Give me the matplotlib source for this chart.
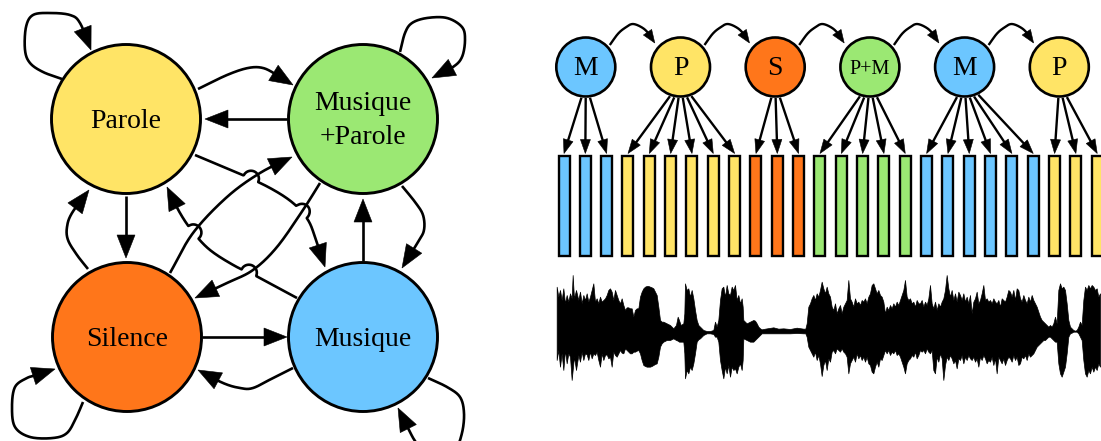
import numpy as np
import matplotlib
matplotlib.use("Agg")
import matplotlib.pyplot as plt
from matplotlib.patches import Circle, Rectangle, Polygon

# ---------------- data ----------------
BLUE, YELLOW, ORANGE, GREEN = "#6CC6FF", "#FFE466", "#FF761A", "#9BE873"

# left: state graph
state_labels = ["Parole", "Musique\n+Parole", "Silence", "Musique"]
state_colors = [YELLOW, GREEN, ORANGE, BLUE]
state_xy = [(126, 119), (363, 119), (127, 337), (363, 337)]

# edges (waypoints, image pixels)
edge_P_loop = [(62, 79), (43, 72), (30, 63), (25, 50), (26, 27), (33, 15), (50, 13), (70, 15), (80, 23), (91, 50)]
edge_P_MP = [(198, 89), (227, 75), (248, 68), (263, 68), (277, 75), (293, 85)]
edge_MP_P = [(287, 119), (205, 119)]
edge_P_M = [(195, 155), (238, 173), (270, 188), (293, 203), (308, 220), (316, 240), (325, 267)]
edge_M_P = [(297, 298), (260, 278), (235, 266), (210, 250), (193, 232), (180, 213), (167, 187)]
edge_S_MP = [(170, 273), (193, 233), (227, 197), (260, 173), (292, 157)]
edge_MP_S = [(320, 183), (303, 210), (277, 247), (253, 270), (227, 283), (195, 298)]
edge_S_P = [(88, 269), (77, 255), (68, 240), (67, 227), (72, 213), (89, 190)]
edge_P_S = [(126, 196), (126, 258)]
edge_MP_M = [(402, 186), (415, 202), (423, 215), (424, 230), (418, 242), (402, 268)]
edge_M_MP = [(363, 261), (363, 199)]
edge_MP_loop = [(400, 52), (405, 33), (412, 23), (427, 18), (447, 18), (462, 27), (465, 40), (462, 57), (453, 67), (432, 78)]
edge_S_M = [(202, 337), (287, 337)]
edge_M_S = [(293, 368), (273, 378), (253, 388), (240, 388), (223, 383), (198, 370)]
edge_S_loop = [(83, 402), (76, 418), (67, 433), (53, 438), (30, 437), (15, 427), (12, 407), (15, 387), (27, 378), (37, 375), (55, 369)]
edge_M_loop = [(428, 378), (447, 387), (460, 397), (464, 413), (462, 433), (455, 450), (440, 458), (425, 453), (415, 441), (408, 428), (398, 408)]

# right: state sequence and frames
seq_labels = ["M", "P", "S", "P+M", "M", "P"]
seq_counts = [3, 6, 3, 5, 6, 3]
label_color = {"M": BLUE, "P": YELLOW, "S": ORANGE, "P+M": GREEN}

# waveform envelope (time units / amplitude units of the waveform panel)
wave_t_a = [20, 25, 30, 35, 40, 45, 50, 55, 60, 65, 68, 72, 78, 85, 90, 95, 100, 105, 110, 115,
            120, 125, 130, 135, 140, 145, 150, 155, 160, 165, 170, 175, 180, 185, 190, 195, 200, 205, 210, 215, 220,
            225, 230, 235, 240, 245, 250, 255, 260, 265,
            270, 275, 280, 285, 290, 295, 300, 305, 310, 315, 320, 325, 330,
            335, 340, 350, 360, 370, 378, 383, 387, 392, 400,
            403, 405, 410, 415, 420, 425, 430, 435, 440,
            445, 450, 460, 470, 480, 490, 495, 500, 505,
            510, 515, 520, 525, 530, 535, 540, 545, 550, 555, 560, 565, 570,
            575, 578, 580, 590, 600, 610, 615, 620, 625, 630, 635, 645, 670, 685, 700, 720, 740, 760, 766]
wave_top_a = [50, 80, 60, 90, 55, 100, 75, 95, 70, 85, 15, 85, 60, 90, 65, 100, 75, 90, 70, 95,
              80, 60, 40, 95, 85, 100, 80, 95, 90, 85, 75, 60, 55, 65, 90, 60, 75, 90, 100, 85, 105,
              120, 112, 112, 115, 115, 140, 120, 115, 115,
              80, 65, 55, 50, 48, 48, 50, 52, 55, 65, 75, 110, 150,
              155, 155, 160, 165, 175, 165, 140, 150, 165, 160,
              130, 40, 60, 55, 80, 60, 85, 120, 150,
              165, 170, 180, 183, 183, 180, 155, 170, 150,
              90, 55, 50, 80, 45, 70, 75, 50, 60, 45, 90, 75, 100,
              85, 110, 150, 160, 155, 150, 152, 160, 170, 175, 178, 176, 172, 176, 175, 177, 173, 176, 176]
wave_bot_a = [270, 240, 290, 250, 300, 240, 280, 250, 260, 330, 300, 260, 300, 255, 275, 245, 270, 250, 253, 270,
              245, 265, 250, 255, 245, 270, 290, 250, 270, 255, 253, 265, 260, 290, 245, 255, 260, 250, 240, 248, 250,
              235, 240, 245, 250, 250, 245, 245, 242, 240,
              250, 270, 285, 288, 290, 290, 290, 288, 285, 282, 280, 260, 230,
              220, 215, 210, 210, 205, 210, 212, 215, 215, 215,
              250, 325, 300, 310, 290, 300, 280, 250, 215,
              208, 205, 195, 190, 190, 192, 200, 200, 215,
              270, 300, 325, 290, 310, 285, 320, 290, 300, 295, 310, 290, 280,
              300, 270, 205, 210, 215, 215, 210, 205, 200, 195, 190, 190, 190, 190, 190, 190, 189, 190, 190]
wave_t_b = list(range(770, 1106, 5))
wave_top_b = [160, 110, 100, 85, 75, 90, 70, 80, 60, 35, 55, 70, 50, 70, 80, 110, 120, 100, 130, 115,
              105, 130, 110, 100, 90, 30, 85, 95, 110, 85, 100, 95, 105, 90, 95, 85, 100, 80, 70, 45,
              40, 55, 70, 60, 75, 80, 95, 130, 110, 120, 105, 115, 100, 110, 95, 105, 90, 75, 60, 30,
              80, 90, 85, 100, 95, 110, 90, 100]
wave_bot_b = [200, 230, 240, 250, 260, 245, 270, 255, 280, 318, 285, 270, 300, 265, 275, 245, 240, 250, 235, 240,
              245, 235, 245, 250, 260, 310, 280, 270, 260, 275, 250, 265, 255, 270, 260, 275, 260, 280, 285, 305,
              310, 290, 275, 290, 265, 270, 255, 240, 250, 240, 255, 245, 250, 240, 255, 250, 260, 275, 290, 310,
              280, 270, 265, 255, 260, 245, 265, 255]
wave_t_c = list(range(1110, 1651, 5))
wave_top_c = [100, 90, 110, 95, 105, 85, 45, 100, 115, 95, 120, 100, 110, 95, 85, 60, 15, 55, 80, 60,
              90, 70, 95, 65, 75, 90, 70, 95, 80, 100, 75, 130, 95, 85, 65, 100, 90, 70, 45, 90,
              85, 95, 90, 100, 85, 95, 100, 90, 110, 85, 90, 95, 80, 60, 65, 80, 60, 90, 55, 60,
              85, 95, 75, 90, 100, 80, 95, 75, 90, 100, 110, 125, 140, 150, 155, 160, 165, 170, 165, 170,
              160, 140, 160, 60, 40, 55, 50, 60, 100, 150, 170, 175, 180, 182, 180, 170, 155, 165, 90, 50,
              60, 45, 55, 45, 50, 60, 55, 80, 70]
wave_bot_c = [240, 245, 240, 250, 235, 245, 250, 240, 300, 310, 260, 275, 250, 265, 330, 285, 260, 270, 255, 265,
              280, 270, 295, 265, 270, 255, 280, 260, 270, 255, 265, 270, 260, 275, 265, 290, 260, 270, 255, 265,
              280, 270, 275, 260, 285, 265, 310, 260, 270, 280, 265, 285, 270, 260, 265, 275, 255, 270, 260, 285,
              280, 260, 265, 255, 270, 250, 260, 255, 250, 240, 230, 225, 220, 215, 210, 210, 205, 200, 200, 205,
              210, 215, 215, 280, 310, 320, 305, 290, 250, 200, 190, 188, 185, 185, 185, 190, 200, 210, 270, 310,
              320, 300, 310, 290, 305, 290, 300, 280, 290]

wave_t = wave_t_a + wave_t_b + wave_t_c
wave_top = wave_top_a + wave_top_b + wave_top_c
wave_bot = wave_bot_a + wave_bot_b + wave_bot_c

# ---------------- figure ----------------
W, H = 1101, 441
fig = plt.figure(figsize=(W / 100, H / 100), dpi=100)
ax = fig.add_axes([0, 0, 1, 1])
ax.set_xlim(0, W)
ax.set_ylim(H, 0)
ax.axis("off")
SERIF = ["Liberation Serif", "DejaVu Serif"]
LW = 1.9


def catmull(pts, n=30):
    P = np.asarray(pts, float)
    if len(P) == 2:
        return np.vstack([P[0], P[1]])
    P = np.vstack([2 * P[0] - P[1], P, 2 * P[-1] - P[-2]])
    out = []
    t = np.linspace(0, 1, n, endpoint=False)[:, None]
    for i in range(1, len(P) - 2):
        p0, p1, p2, p3 = P[i - 1], P[i], P[i + 1], P[i + 2]
        seg = 0.5 * ((2 * p1) + (-p0 + p2) * t + (2 * p0 - 5 * p1 + 4 * p2 - p3) * t ** 2
                     + (-p0 + 3 * p1 - 3 * p2 + p3) * t ** 3)
        out.append(seg)
    out.append(P[-2][None, :])
    return np.vstack(out)


def resample(poly, step=0.4):
    d = np.hypot(*np.diff(poly, axis=0).T)
    s = np.concatenate([[0], np.cumsum(d)])
    ss = np.append(np.arange(0, s[-1], step), s[-1])
    return np.column_stack([np.interp(ss, s, poly[:, 0]), np.interp(ss, s, poly[:, 1])])


def arclen(pts):
    return np.concatenate([[0], np.cumsum(np.hypot(*np.diff(pts, axis=0).T))])


def crossings(P, Q):
    p = P[:-1][:, None, :]
    r = (P[1:] - P[:-1])[:, None, :]
    q = Q[:-1][None, :, :]
    sv = (Q[1:] - Q[:-1])[None, :, :]
    rxs = r[..., 0] * sv[..., 1] - r[..., 1] * sv[..., 0]
    qp = q - p
    with np.errstate(divide="ignore", invalid="ignore"):
        t = (qp[..., 0] * sv[..., 1] - qp[..., 1] * sv[..., 0]) / rxs
        u = (qp[..., 0] * r[..., 1] - qp[..., 1] * r[..., 0]) / rxs
    m = (t >= 0) & (t <= 1) & (u >= 0) & (u <= 1)
    ii, jj = np.nonzero(m)
    return ii, t[ii, jj]


def add_jumps(pts, others, r=8.0):
    pts = pts.copy()
    s = arclen(pts)
    base = pts.copy()
    for o in others:
        ii, tt = crossings(base, o)
        for i, t in zip(ii, tt):
            s0 = s[i] + t * (s[i + 1] - s[i])
            d = base[i + 1] - base[i]
            d = d / np.hypot(*d)
            n = np.array([d[1], -d[0]])
            if n[1] > 0:
                n = -n
            sel = np.abs(s - s0) < r
            off = np.sqrt(np.clip(r ** 2 - (s[sel] - s0) ** 2, 0, None))
            pts[sel] = base[sel] + off[:, None] * n[None, :]
    return pts


def draw_arrow(pts, L=23, Wd=18, lw=LW):
    s = arclen(pts)
    total = s[-1]
    tip = pts[-1]
    bx = np.interp(total - L, s, pts[:, 0])
    by = np.interp(total - L, s, pts[:, 1])
    d = tip - np.array([bx, by])
    d = d / np.hypot(*d)
    base = tip - d * L
    nrm = np.array([-d[1], d[0]])
    keep = s <= total - L * 0.5
    line = pts[keep]
    ax.plot(line[:, 0], line[:, 1], color="k", lw=lw, solid_capstyle="butt",
            solid_joinstyle="round", zorder=2)
    tri = np.array([tip, base + nrm * Wd / 2, base - nrm * Wd / 2])
    ax.add_patch(Polygon(tri, closed=True, fc="k", ec="k", lw=0.4, zorder=2))


# ----- left graph -----
dense_C = resample(catmull(edge_S_MP))
dense_D = resample(catmull(edge_MP_S))
dense_A = add_jumps(resample(catmull(edge_P_M)), [dense_C, dense_D])
dense_B = add_jumps(resample(catmull(edge_M_P)), [dense_C, dense_D])

for pts in [dense_A, dense_B, dense_C, dense_D]:
    draw_arrow(pts)
for e in [edge_P_loop, edge_P_MP, edge_MP_P, edge_S_P, edge_P_S, edge_MP_M, edge_M_MP,
          edge_MP_loop, edge_S_M, edge_M_S, edge_S_loop, edge_M_loop]:
    draw_arrow(resample(catmull(e)))

R_BIG = 74.5
for (cx, cy), col, lab in zip(state_xy, state_colors, state_labels):
    ax.add_patch(Circle((cx, cy), R_BIG, fc=col, ec="k", lw=2.1, zorder=3))
    lines = lab.split("\n")
    if len(lines) == 1:
        ax.text(cx, cy + 8.5, lines[0], ha="center", va="baseline", fontsize=20, family=SERIF, zorder=4)
    else:
        ax.text(cx, cy - 8.5, lines[0], ha="center", va="baseline", fontsize=20, family=SERIF, zorder=4)
        ax.text(cx, cy + 25, lines[1], ha="center", va="baseline", fontsize=20, family=SERIF, zorder=4)

# ----- right: sequence -----
NODE_Y = 67
NODE_X0, NODE_DX = 585.8, 94.7
R_SMALL = 29.5
BAR_X0, BAR_DX, BAR_W = 564.0, 21.33, 11.0
BAR_TOP, BAR_BOT = 156, 256

node_x = [NODE_X0 + NODE_DX * k for k in range(len(seq_labels))]
hop = [(24, -22), (32, -33), (39, -39), (47, -43), (57, -39), (64, -32), (69, -24)]
for k in range(len(seq_labels) - 1):
    pts = [(node_x[k] + dx, NODE_Y + dy) for dx, dy in hop]
    draw_arrow(resample(catmull(pts)), L=13, Wd=10, lw=1.7)

bar_i = 0
for k, (lab, cnt) in enumerate(zip(seq_labels, seq_counts)):
    cx = node_x[k]
    for j in range(cnt):
        bx = BAR_X0 + BAR_DX * bar_i
        ax.add_patch(Rectangle((bx - BAR_W / 2, BAR_TOP), BAR_W, BAR_BOT - BAR_TOP,
                               fc=label_color[lab], ec="k", lw=1.7, zorder=3))
        dx = 0.2 * (bx - cx)
        sx, sy = cx + dx, NODE_Y + np.sqrt(31.0 ** 2 - dx ** 2)
        pts = np.array([(sx, sy), (bx, BAR_TOP - 2.5)])
        draw_arrow(resample(pts), L=14, Wd=10, lw=1.7)
        bar_i += 1
    ax.add_patch(Circle((cx, NODE_Y), R_SMALL, fc=label_color[lab], ec="k", lw=1.9, zorder=3))
    if lab == "P+M":
        ax.text(cx, NODE_Y + 6.5, lab, ha="center", va="baseline", fontsize=14.5, family=SERIF, zorder=4)
    else:
        ax.text(cx, NODE_Y + 8, lab, ha="center", va="baseline", fontsize=20, family=SERIF, zorder=4)

# ----- waveform -----
axw = fig.add_axes([550 / W, 1 - 390 / H, 551 / W, 120 / H])
axw.set_xlim(0, 1653)
axw.set_ylim(360, 0)
axw.axis("off")
axw.fill_between(wave_t, wave_top, wave_bot, color="k", lw=0.5)

fig.savefig("out.png", dpi=100, facecolor="white")
